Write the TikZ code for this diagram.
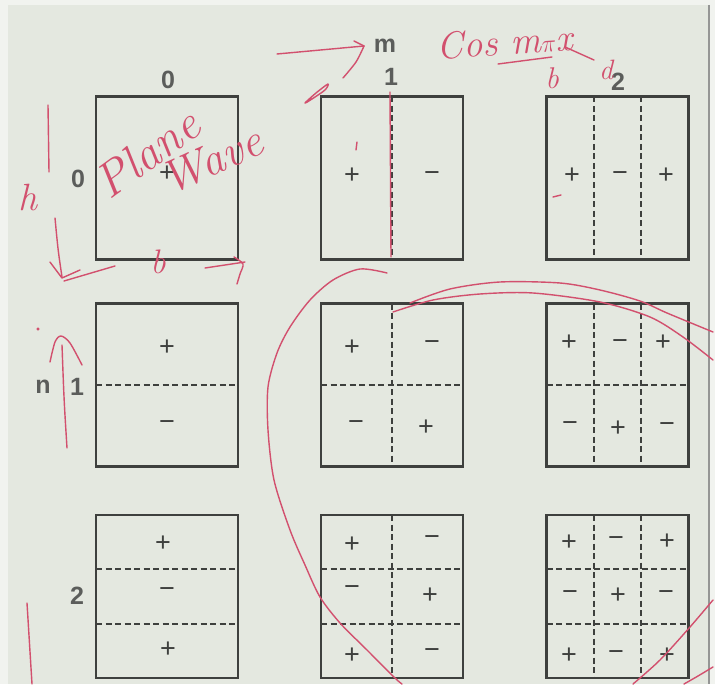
\documentclass[tikz,border=0pt]{standalone}
\usepackage{fontspec}
\newfontfamily\lab{Liberation Sans}
\usetikzlibrary{calc}
\definecolor{bg}{HTML}{E4E8E0}
\definecolor{edgec}{HTML}{F1F3EF}
\definecolor{ink}{HTML}{3E403E}
\definecolor{pen}{HTML}{D2506E}
\tikzset{
  box/.style={draw=ink, line width=2.3pt, minimum width=142pt, minimum height=163pt, inner sep=0pt, outer sep=0pt},
  div/.style={draw=ink, line width=2pt, dash pattern=on 6pt off 3.5pt},
  lbl/.style={font=\lab\bfseries\fontsize{25}{25}\selectfont, text=ink!85, inner sep=0pt},
  sgn/.style={font=\lab\fontsize{27}{27}\selectfont, text=ink, inner sep=0pt, text height=0.7em, text depth=0pt},
  pen/.style={draw=pen, line width=1.4pt, line cap=round, line join=round},
  hand/.style={text=pen, inner sep=0pt, font=\itshape\fontsize{#1}{#1}\selectfont},
  hand/.default=30,
}
\begin{document}
\begin{tikzpicture}[x=1pt,y=-1pt]
\fill[edgec] (0,0) rectangle (715,684);
\fill[bg] (8,5) rectangle (708,684);
\draw[ink!55, line width=1.5pt] (709,5) -- (709,684);
\useasboundingbox (0,0) rectangle (715,684);

% boxes
\node[box] (b00) at (167,178) {};
\node[box] (b01) at (392,178) {};
\node[box] (b02) at (617.5,178) {};
\node[box] (b10) at (167,385) {};
\node[box] (b11) at (392,385) {};
\node[box] (b12) at (617.5,385) {};
\node[box] (b20) at (167,596.5) {};
\node[box] (b21) at (392,596.5) {};
\node[box] (b22) at (617.5,596.5) {};

% dividers
\draw[div] (b01.north) -- (b01.south);
\draw[div] ($(b02.north west)!1/3!(b02.north east)$) -- ($(b02.south west)!1/3!(b02.south east)$);
\draw[div] ($(b02.north west)!2/3!(b02.north east)$) -- ($(b02.south west)!2/3!(b02.south east)$);
\draw[div] (b10.west) -- (b10.east);
\draw[div] (b11.north) -- (b11.south);
\draw[div] (b11.west) -- (b11.east);
\draw[div] ($(b12.north west)!1/3!(b12.north east)$) -- ($(b12.south west)!1/3!(b12.south east)$);
\draw[div] ($(b12.north west)!2/3!(b12.north east)$) -- ($(b12.south west)!2/3!(b12.south east)$);
\draw[div] (b12.west) -- (b12.east);
\draw[div] ($(b20.north west)!1/3!(b20.south west)$) -- ($(b20.north east)!1/3!(b20.south east)$);
\draw[div] ($(b20.north west)!2/3!(b20.south west)$) -- ($(b20.north east)!2/3!(b20.south east)$);
\draw[div] (b21.north) -- (b21.south);
\draw[div] ($(b21.north west)!1/3!(b21.south west)$) -- ($(b21.north east)!1/3!(b21.south east)$);
\draw[div] ($(b21.north west)!2/3!(b21.south west)$) -- ($(b21.north east)!2/3!(b21.south east)$);
\draw[div] ($(b22.north west)!1/3!(b22.north east)$) -- ($(b22.south west)!1/3!(b22.south east)$);
\draw[div] ($(b22.north west)!2/3!(b22.north east)$) -- ($(b22.south west)!2/3!(b22.south east)$);
\draw[div] ($(b22.north west)!1/3!(b22.south west)$) -- ($(b22.north east)!1/3!(b22.south east)$);
\draw[div] ($(b22.north west)!2/3!(b22.south west)$) -- ($(b22.north east)!2/3!(b22.south east)$);

% labels
\node[lbl] (m) at (385,46) {m};
\node[lbl] (c0) at (168,80) {0};
\node[lbl] (c1) at (391,77) {1};
\node[lbl] (c2) at (618,82) {2};
\node[lbl] (n) at (43,387) {n};
\node[lbl] (r0) at (78,179) {0};
\node[lbl] (r1) at (77,387) {1};
\node[lbl] (r2) at (77,596) {2};

% signs
\foreach \x/\y/\s [count=\i] in {
 167/178/+, 352/180/+, 432/178/−, 572/180/+, 620/178/−, 666/180/+,
 167/352/+, 167/427/−, 352/352/+, 432/347/−, 356/427/−, 426/432/+,
 569/347/+, 620/346/−, 663/347/+, 570/428/−, 618/433/+, 667/429/−,
 163/548/+, 167/594/−, 168/654/+, 352/549/+, 432/542/−, 352/592/−,
 430/600/+, 352/660/+, 432/655/−, 569/547/+, 616/543/−, 667/546/+,
 570/597/−, 618/600/+, 666/597/−, 569/660/+, 616/657/−, 667/660/+}
 {\node[sgn] (s\i) at (\x,\y) {\s};}

% red handwriting
\draw[pen] (277,54) -- (364,46);
\draw[pen] (354,41) -- (364,46);
\draw[pen] plot[smooth] coordinates {(364,46) (356,62) (343,78)};
\draw[pen] plot[smooth cycle] coordinates {(305,103) (316,93) (328,84) (325,90) (312,99)};
\node[hand=38, rotate=4] (cosm) at (505,42) {Cos m$\pi$x};
\draw[pen] (498,64) -- (552,57);
\node[hand=30] (hb) at (552,78) {b};
\draw[pen] (565,47) -- (594,60);
\node[hand=28] (hd) at (606,70) {d};
\draw[pen] (390,92) -- (391,257);
\draw[pen] (357,142) -- (356,150);
\draw[pen] (553,197) -- (561,195);

\node[hand=48, rotate=36] (plane) at (147,153) {Plane};
\node[hand=46, rotate=24] (wave) at (212,160) {Wave};
\node[hand=38] (h) at (28,198) {h};
\draw[pen] (48,105) -- (49,172);
\draw[pen] (55,218) .. controls (58,250) .. (62,277);
\draw[pen] (50,262) -- (62,278) -- (80,270);
\draw[pen] (64,281) -- (115,266);
\node[hand=34] (hbb) at (158,262) {b};
\draw[pen] plot[smooth] coordinates {(205,268) (225,265) (245,262)};
\draw[pen] plot[smooth] coordinates {(234,257) (243,264) (240,274) (237,284)};

\draw[pen] (67,448) .. controls (64,400) .. (62,345);
\draw[pen] plot[smooth] coordinates {(50,362) (55,342) (61,336) (70,343) (82,365)};
\fill[pen] (38,329) circle (1pt);
\draw[pen] (27,603) -- (32,684);

\draw[pen] plot[smooth] coordinates {(387,273) (360,269) (333,280) (310,300) (290,327) (277,353) (268,387) (268,430) (274,480) (290,530) (305,565) (320,597) (340,623) (367,650) (395,678) (402,684)};
\draw[pen] plot[smooth] coordinates {(410,303) (450,289) (500,282) (560,283) (600,290) (640,301) (667,313) (713,332)};
\draw[pen] plot[smooth] coordinates {(393,312) (433,300) (480,294) (533,293) (600,302) (650,317) (683,337) (713,360)};
\draw[pen] plot[smooth] coordinates {(633,684) (660,660) (690,627) (713,600)};
\draw[pen] plot[smooth] coordinates {(684,684) (698,676) (713,667)};
\end{tikzpicture}
\end{document}
